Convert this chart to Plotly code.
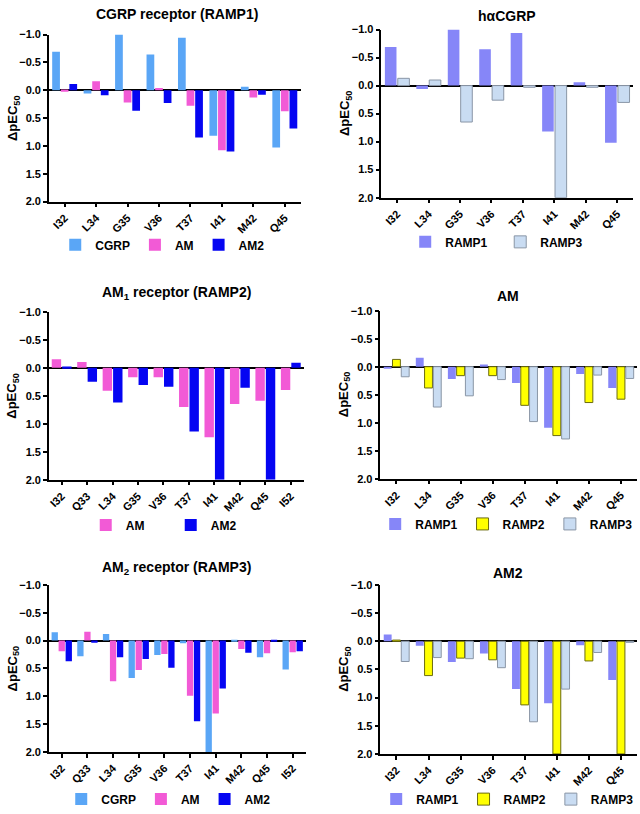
import plotly.graph_objects as go

# ---------------- data ----------------
cat8 = ["I32", "L34", "G35", "V36", "T37", "I41", "M42", "Q45"]
cat10 = ["I32", "Q33", "L34", "G35", "V36", "T37", "I41", "M42", "Q45", "I52"]

# Panel 1: CGRP receptor (RAMP1)
p1_cgrp = [-0.69, 0.06, -1.00, -0.64, -0.94, 0.82, -0.06, 1.03]
p1_am = [0.03, -0.16, 0.22, -0.04, 0.28, 1.08, 0.13, 0.38]
p1_am2 = [-0.11, 0.09, 0.37, 0.23, 0.85, 1.10, 0.08, 0.69]

# Panel 2: h-alpha CGRP
p2_ramp1 = [-0.69, 0.06, -1.00, -0.65, -0.94, 0.82, -0.06, 1.02]
p2_ramp3 = [-0.13, -0.10, 0.65, 0.26, 0.03, 2.00, 0.03, 0.30]

# Panel 3: AM1 receptor (RAMP2)
p3_am = [-0.15, -0.10, 0.41, 0.17, 0.17, 0.70, 1.24, 0.65, 0.59, 0.40]
p3_am2 = [-0.02, 0.25, 0.62, 0.31, 0.34, 1.14, 2.00, 0.36, 2.00, -0.09]

# Panel 4: AM
p4_ramp1 = [0.03, -0.16, 0.22, -0.04, 0.29, 1.09, 0.13, 0.38]
p4_ramp2 = [-0.13, 0.38, 0.16, 0.16, 0.69, 1.23, 0.64, 0.58]
p4_ramp3 = [0.18, 0.72, 0.52, 0.23, 0.98, 1.29, 0.15, 0.21]

# Panel 5: AM2 receptor (RAMP3)
p5_cgrp = [-0.15, 0.28, -0.12, 0.67, 0.26, 0.05, 2.00, 0.02, 0.30, 0.52]
p5_am = [0.19, -0.16, 0.73, 0.53, 0.24, 0.99, 1.31, 0.15, 0.23, 0.21]
p5_am2 = [0.37, 0.04, 0.30, 0.33, 0.49, 1.45, 0.86, 0.22, 0.02, 0.19]

# Panel 6: AM2
p6_ramp1 = [-0.12, 0.08, 0.37, 0.22, 0.85, 1.10, 0.07, 0.69]
p6_ramp2 = [-0.02, 0.61, 0.30, 0.33, 1.13, 2.00, 0.35, 2.00]
p6_ramp3 = [0.36, 0.29, 0.31, 0.47, 1.43, 0.85, 0.20, 0.02]

y_ticks = [-1.0, -0.5, 0.0, 0.5, 1.0, 1.5, 2.0]

# ---------------- styles ----------------
FONT = "Liberation Sans, Arial, sans-serif"
W, H = 640, 814
C_CGRP = "#5AA6F6"
C_AM = "#F25AD6"
C_AM2 = "#0505F2"
C_R1 = "#8686F8"
C_R2 = "#FFFF00"
C_R3 = "#C9DCF2"

styles = {
    "CGRP": dict(color=C_CGRP, line=dict(width=0)),
    "AM": dict(color=C_AM, line=dict(width=0)),
    "AM2": dict(color=C_AM2, line=dict(width=0)),
    "RAMP1": dict(color=C_R1, line=dict(width=0)),
    "RAMP2": dict(color=C_R2, line=dict(width=1, color="#6B6B10")),
    "RAMP3": dict(color=C_R3, line=dict(width=1, color="#8A96A6")),
}

# panel pixel boxes: (x0, x1, y0, y1) with y from top
boxes = [
    (48, 300, 29, 199),
    (381, 633, 24, 195),
    (48, 303, 311, 482),
    (380, 637, 310, 481),
    (48, 305, 589, 759),
    (380, 637, 589, 761),
]
titles = [
    ("CGRP receptor (RAMP1)", 176, 8),
    ("h\u03b1CGRP", 507, 10),
    ("AM<sub>1</sub> receptor (RAMP2)", 176, 292),
    ("AM", 508, 295),
    ("AM<sub>2</sub> receptor (RAMP3)", 176, 572),
    ("AM2", 508, 577),
]
legend_pos = [(162, 243), (500, 240), (170, 528), (506, 527), (168, 807), (507, 807)]
legend_entry = [None, 50, 40, None, None, None]

panels = [
    (cat8, [("CGRP", p1_cgrp), ("AM", p1_am), ("AM2", p1_am2)]),
    (cat8, [("RAMP1", p2_ramp1), ("RAMP3", p2_ramp3)]),
    (cat10, [("AM", p3_am), ("AM2", p3_am2)]),
    (cat8, [("RAMP1", p4_ramp1), ("RAMP2", p4_ramp2), ("RAMP3", p4_ramp3)]),
    (cat10, [("CGRP", p5_cgrp), ("AM", p5_am), ("AM2", p5_am2)]),
    (cat8, [("RAMP1", p6_ramp1), ("RAMP2", p6_ramp2), ("RAMP3", p6_ramp3)]),
]

fig = go.Figure()
layout = dict(
    width=W, height=H,
    margin=dict(l=0, r=0, t=0, b=0),
    paper_bgcolor="white", plot_bgcolor="white",
    barmode="group", bargap=0.18, bargroupgap=0.1,
    font=dict(family=FONT, size=11, color="black", weight="bold"),
    annotations=[],
)

for i, ((cats, series), box) in enumerate(zip(panels, boxes)):
    n = i + 1
    xa = "x" if n == 1 else f"x{n}"
    ya = "y" if n == 1 else f"y{n}"
    lg = "legend" if n == 1 else f"legend{n}"
    for name, vals in series:
        fig.add_trace(go.Bar(
            x=cats, y=vals, name=name, xaxis=xa, yaxis=ya, legend=lg,
            marker=styles[name], showlegend=True,
        ))
    x0, x1, y0, y1 = box
    xkey = "xaxis" if n == 1 else f"xaxis{n}"
    ykey = "yaxis" if n == 1 else f"yaxis{n}"
    layout[xkey] = dict(
        domain=[x0 / W, x1 / W], anchor=ya,
        type="category", range=[-0.5, len(cats) - 0.5],
        showline=True, linecolor="black", linewidth=1.5,
        ticks="outside", ticklen=4, tickwidth=1.5, tickcolor="black",
        tickangle=-45, tickfont=dict(family=FONT, size=11, weight="bold"),
        showgrid=False, zeroline=False, fixedrange=True,
    )
    layout[ykey] = dict(
        domain=[1 - y1 / H, 1 - y0 / H], anchor=xa,
        range=[2.0, -1.0], tickvals=y_ticks, tickformat=".1f",
        showline=True, linecolor="black", linewidth=1.5,
        ticks="outside", ticklen=4, tickwidth=1.5, tickcolor="black",
        tickfont=dict(family=FONT, size=11, weight="bold"),
        showgrid=False, zeroline=True, zerolinecolor="black", zerolinewidth=1.5,
        fixedrange=True,
    )
    lx, ly = legend_pos[i]
    leg = dict(
        x=lx / W, y=1 - ly / H, xanchor="center", yanchor="middle",
        orientation="h", bgcolor="rgba(0,0,0,0)",
        font=dict(family=FONT, size=12, weight="bold"),
        itemwidth=30, tracegroupgap=0,
    )
    if legend_entry[i]:
        leg["entrywidth"] = legend_entry[i]
    layout[lg] = leg
    t, tx, ty = titles[i]
    layout["annotations"].append(dict(
        text=t, x=tx / W, y=1 - ty / H, xref="paper", yref="paper",
        xanchor="center", yanchor="middle", showarrow=False,
        font=dict(family=FONT, size=14, weight="bold"),
    ))
    # y-axis title
    layout["annotations"].append(dict(
        text="\u0394pEC<sub>50</sub>", x=(x0 - 36) / W, y=1 - ((y0 + y1) / 2) / H,
        xref="paper", yref="paper", xanchor="center", yanchor="middle",
        textangle=-90, showarrow=False,
        font=dict(family=FONT, size=13, weight="bold"),
    ))

fig.update_layout(**layout)
fig.write_html(
    "out.html",
    config={"displayModeBar": False},
    post_script="document.body.style.margin='0';document.body.style.overflow='hidden';",
)
